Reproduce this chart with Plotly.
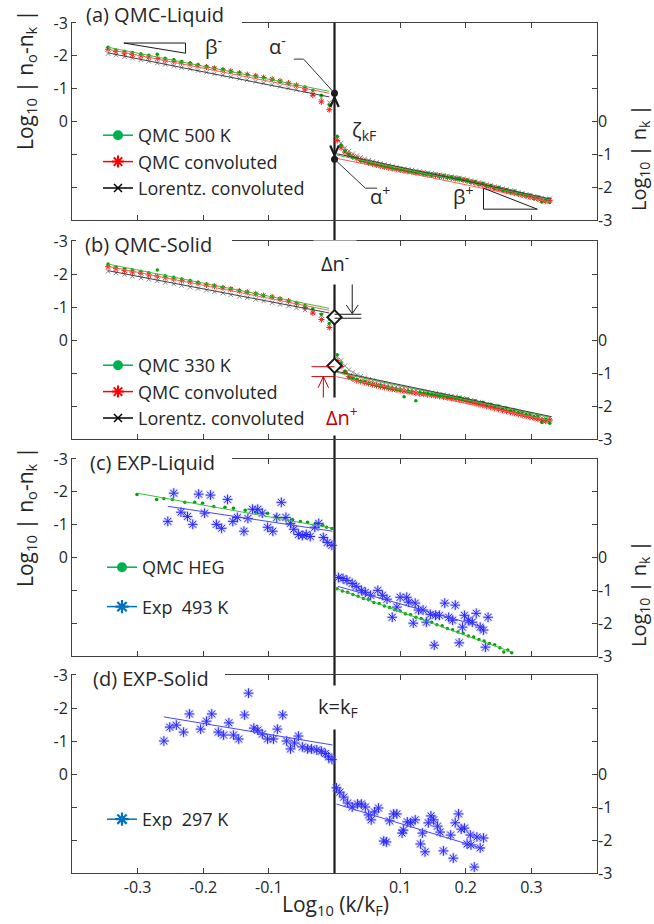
import plotly.graph_objects as go

# ---------------------------------------------------------------- data
# log10(k/kF) sampling of the QMC curves, panels (a) and (b)
x_qmc_left = [-0.345, -0.333, -0.320, -0.308, -0.295, -0.283, -0.270, -0.258, -0.245, -0.233,
              -0.220, -0.208, -0.195, -0.183, -0.170, -0.158, -0.145, -0.133, -0.120, -0.108,
              -0.095, -0.083, -0.070, -0.058, -0.045, -0.033, -0.020, -0.008]
x_qmc_right = [0.004, 0.010, 0.016, 0.022, 0.028, 0.034, 0.040, 0.046, 0.052, 0.058,
               0.064, 0.070, 0.076, 0.082, 0.088, 0.094, 0.100, 0.106, 0.112, 0.118,
               0.124, 0.130, 0.136, 0.142, 0.148, 0.154, 0.160, 0.166, 0.172, 0.178,
               0.184, 0.190, 0.196, 0.202, 0.208, 0.214, 0.220, 0.226, 0.232, 0.238,
               0.244, 0.250, 0.256, 0.262, 0.268, 0.274, 0.280, 0.286, 0.292, 0.298,
               0.304, 0.310, 0.316, 0.322, 0.328]

# (a) QMC liquid, 500 K  -- left: log10|n0-nk|, right: log10|nk|
liq_qmc_left = [-2.26, -2.18, -2.14, -2.10, -2.06, -2.02, -2.05, -1.93, -1.88, -1.83,
                -1.78, -1.73, -1.68, -1.63, -1.58, -1.53, -1.48, -1.43, -1.38, -1.33,
                -1.27, -1.22, -1.16, -1.11, -1.05, -0.95, -0.80, -0.50]
liq_conv_left = [-2.20, -2.13, -2.08, -2.04, -2.00, -1.96, -1.92, -1.87, -1.83, -1.79,
                 -1.75, -1.70, -1.66, -1.62, -1.57, -1.53, -1.48, -1.43, -1.39, -1.34,
                 -1.29, -1.23, -1.17, -1.10, -1.00, -0.80, -0.60, -0.36]
liq_lor_left = [-2.07, -2.02, -1.97, -1.93, -1.88, -1.83, -1.78, -1.74, -1.69, -1.64,
                -1.60, -1.55, -1.50, -1.45, -1.41, -1.36, -1.31, -1.27, -1.22, -1.17,
                -1.12, -1.07, -1.02, -0.97, -0.92, -0.84, -0.72, -0.58]
liq_qmc_right = [-0.45, -0.72, -0.90, -1.00, -1.10, -1.12, -1.20, -1.20, -1.27, -1.28,
                 -1.33, -1.34, -1.39, -1.38, -1.45, -1.44, -1.49, -1.47, -1.53, -1.52,
                 -1.57, -1.55, -1.60, -1.58, -1.64, -1.62, -1.67, -1.65, -1.71, -1.69,
                 -1.75, -1.73, -1.79, -1.78, -1.85, -1.83, -1.91, -1.88, -1.97, -1.95,
                 -2.04, -2.00, -2.10, -2.07, -2.16, -2.12, -2.22, -2.19, -2.28, -2.24,
                 -2.35, -2.30, -2.45, -2.38, -2.47]
liq_conv_right = [-0.58, -0.80, -0.93, -1.02, -1.08, -1.13, -1.18, -1.22, -1.26, -1.29,
                  -1.32, -1.35, -1.38, -1.41, -1.43, -1.46, -1.48, -1.50, -1.52, -1.54,
                  -1.56, -1.57, -1.59, -1.61, -1.63, -1.64, -1.66, -1.68, -1.70, -1.72,
                  -1.74, -1.76, -1.78, -1.81, -1.84, -1.87, -1.90, -1.93, -1.96, -1.99,
                  -2.03, -2.06, -2.09, -2.12, -2.15, -2.18, -2.21, -2.24, -2.27, -2.30,
                  -2.33, -2.36, -2.40, -2.43, -2.40]
liq_lor_right = [-0.52, -0.66, -0.80, -0.90, -0.98, -1.04, -1.09, -1.14, -1.18, -1.22,
                 -1.25, -1.28, -1.31, -1.34, -1.37, -1.40, -1.42, -1.44, -1.46, -1.48,
                 -1.50, -1.52, -1.54, -1.56, -1.58, -1.60, -1.62, -1.64, -1.66, -1.68,
                 -1.70, -1.72, -1.74, -1.77, -1.80, -1.83, -1.86, -1.89, -1.92, -1.95,
                 -1.98, -2.01, -2.04, -2.07, -2.10, -2.13, -2.16, -2.19, -2.22, -2.25,
                 -2.28, -2.31, -2.34, -2.37, -2.35]

# (b) QMC solid, 330 K
sol_qmc_left = [-2.30, -2.22, -2.17, -2.12, -2.08, -2.04, -2.12, -1.95, -1.90, -1.85,
                -1.80, -1.75, -1.70, -1.65, -1.60, -1.55, -1.50, -1.45, -1.40, -1.35,
                -1.30, -1.24, -1.18, -1.12, -1.05, -0.95, -0.78, -0.50]
sol_conv_left = [-2.22, -2.16, -2.10, -2.06, -2.02, -1.97, -1.93, -1.89, -1.85, -1.80,
                 -1.76, -1.72, -1.67, -1.63, -1.58, -1.54, -1.49, -1.45, -1.40, -1.35,
                 -1.30, -1.24, -1.18, -1.10, -0.98, -0.82, -0.62, -0.38]
sol_lor_left = [-2.08, -2.03, -1.98, -1.93, -1.88, -1.84, -1.79, -1.74, -1.70, -1.65,
                -1.60, -1.56, -1.51, -1.46, -1.42, -1.37, -1.32, -1.28, -1.23, -1.18,
                -1.13, -1.08, -1.03, -0.97, -0.91, -0.84, -0.75, -0.62]
sol_qmc_right = [-0.45, -0.70, -0.95, -1.15, -1.17, -1.20, -1.25, -1.26, -1.30, -1.33,
                 -1.37, -1.38, -1.42, -1.45, -1.47, -1.49, -1.52, -1.72, -1.55, -1.58,
                 -1.84, -1.60, -1.63, -1.62, -1.66, -1.65, -1.69, -1.68, -1.72, -1.71,
                 -1.76, -1.74, -1.80, -1.79, -1.85, -1.84, -1.90, -1.89, -1.96, -1.95,
                 -2.02, -2.00, -2.08, -2.06, -2.14, -2.12, -2.20, -2.18, -2.26, -2.24,
                 -2.32, -2.30, -2.50, -2.40, -2.52]
sol_conv_right = [-0.62, -0.80, -0.98, -1.10, -1.18, -1.23, -1.26, -1.29, -1.32, -1.35,
                  -1.38, -1.41, -1.44, -1.46, -1.49, -1.51, -1.53, -1.55, -1.57, -1.59,
                  -1.61, -1.63, -1.64, -1.66, -1.67, -1.69, -1.71, -1.73, -1.75, -1.77,
                  -1.79, -1.81, -1.83, -1.86, -1.89, -1.92, -1.95, -1.98, -2.01, -2.04,
                  -2.07, -2.10, -2.13, -2.16, -2.19, -2.22, -2.25, -2.28, -2.31, -2.34,
                  -2.37, -2.40, -2.43, -2.46, -2.43]
sol_lor_right = [-0.50, -0.62, -0.78, -0.90, -0.98, -1.05, -1.10, -1.15, -1.19, -1.23,
                 -1.27, -1.30, -1.33, -1.36, -1.39, -1.42, -1.44, -1.46, -1.48, -1.50,
                 -1.52, -1.54, -1.56, -1.58, -1.60, -1.62, -1.64, -1.66, -1.68, -1.70,
                 -1.72, -1.74, -1.76, -1.79, -1.82, -1.85, -1.88, -1.91, -1.94, -1.97,
                 -2.00, -2.03, -2.06, -2.09, -2.12, -2.15, -2.18, -2.21, -2.24, -2.27,
                 -2.30, -2.33, -2.36, -2.39, -2.37]

# straight fits, end points
fit_x_qmc_left = [-0.345, -0.008]
fit_x_qmc_right = [0.003, 0.330]
liq_fit_qmc_left, liq_fit_conv_left, liq_fit_lor_left = [-2.26, -0.92], [-2.20, -0.86], [-2.09, -0.75]
liq_fit_qmc_right, liq_fit_conv_right, liq_fit_lor_right = [-1.02, -2.38], [-1.12, -2.46], [-0.98, -2.36]
sol_fit_qmc_left, sol_fit_conv_left, sol_fit_lor_left = [-2.30, -0.96], [-2.23, -0.90], [-2.10, -0.82]
sol_fit_qmc_right, sol_fit_conv_right, sol_fit_lor_right = [-0.98, -2.35], [-1.11, -2.45], [-0.95, -2.32]

# jump values at k = kF
liq_alpha_minus, liq_alpha_plus = -0.86, -1.15
sol_jump_minus, sol_jump_plus = -0.69, -0.78

# (c) experiment, liquid 493 K, with the QMC electron-gas reference
heg_x_left = [-0.301, -0.271, -0.260, -0.247, -0.228, -0.213, -0.201, -0.184, -0.167, -0.154,
              -0.136, -0.120, -0.102, -0.090, -0.076, -0.064, -0.052, -0.041, -0.029, -0.018,
              -0.012, -0.004]
heg_y_left = [-1.92, -1.77, -1.80, -1.77, -1.68, -1.68, -1.65, -1.55, -1.53, -1.50,
              -1.44, -1.38, -1.35, -1.25, -1.19, -1.16, -1.10, -1.07, -1.04, -0.98,
              -0.92, -0.88]
heg_x_right = [0.004, 0.012, 0.020, 0.028, 0.036, 0.044, 0.052, 0.060, 0.068, 0.076,
               0.084, 0.092, 0.100, 0.108, 0.116, 0.124, 0.132, 0.140, 0.148, 0.156,
               0.164, 0.172, 0.180, 0.188, 0.196, 0.204, 0.212, 0.220, 0.228, 0.236,
               0.244, 0.252, 0.258, 0.264, 0.270]
heg_y_right = [-0.95, -1.02, -1.06, -1.13, -1.18, -1.25, -1.29, -1.37, -1.40, -1.48,
               -1.52, -1.59, -1.63, -1.71, -1.74, -1.82, -1.86, -1.93, -1.97, -2.05,
               -2.08, -2.16, -2.20, -2.27, -2.31, -2.39, -2.42, -2.50, -2.54, -2.62,
               -2.66, -2.75, -2.88, -2.82, -2.90]
exp493_x_left = [-0.254, -0.245, -0.234, -0.224, -0.216, -0.207, -0.198, -0.189, -0.180, -0.172,
                 -0.163, -0.155, -0.148, -0.138, -0.132, -0.125, -0.117, -0.110, -0.102, -0.094,
                 -0.088, -0.081, -0.074, -0.067, -0.062, -0.055, -0.049, -0.043, -0.037, -0.030,
                 -0.024, -0.017, -0.011, -0.004]
exp493_y_left = [-1.10, -1.96, -1.38, -1.25, -1.01, -1.93, -1.35, -1.90, -1.01, -0.89,
                 -1.77, -1.10, -1.22, -0.80, -1.19, -1.47, -1.47, -1.35, -0.92, -0.80,
                 -1.22, -1.68, -1.22, -1.04, -0.86, -0.70, -0.67, -0.70, -0.64, -0.92,
                 -1.04, -0.61, -0.46, -0.37]
exp493_x_right = [0.006, 0.013, 0.019, 0.027, 0.033, 0.041, 0.047, 0.055, 0.066, 0.073,
                  0.080, 0.088, 0.095, 0.100, 0.110, 0.113, 0.120, 0.123, 0.128, 0.135,
                  0.140, 0.146, 0.152, 0.154, 0.160, 0.168, 0.174, 0.180, 0.184, 0.190,
                  0.195, 0.198, 0.204, 0.210, 0.216, 0.222, 0.227, 0.230, 0.234]
exp493_y_right = [-0.61, -0.64, -0.70, -0.79, -0.88, -1.00, -1.06, -1.15, -1.00, -1.15,
                  -1.27, -1.82, -1.51, -1.21, -1.21, -1.36, -2.00, -1.39, -1.60, -1.60,
                  -1.97, -1.73, -2.67, -1.76, -1.76, -1.39, -1.82, -1.91, -1.45, -2.60,
                  -2.12, -1.76, -1.91, -1.97, -1.70, -2.12, -2.21, -2.73, -1.82]
heg_fit_x_left, heg_fit_left = [-0.301, -0.003], [-1.96, -0.89]
heg_fit_x_right, heg_fit_right = [0.002, 0.270], [-0.94, -2.88]
exp493_fit_x_left, exp493_fit_left = [-0.254, -0.003], [-1.56, -0.80]
exp493_fit_x_right, exp493_fit_right = [0.005, 0.227], [-0.88, -2.12]

# (d) experiment, solid 297 K
exp297_x_left = [-0.260, -0.251, -0.241, -0.230, -0.221, -0.204, -0.195, -0.187, -0.177, -0.169,
                 -0.161, -0.154, -0.146, -0.137, -0.131, -0.123, -0.117, -0.110, -0.102, -0.093,
                 -0.087, -0.079, -0.073, -0.067, -0.061, -0.055, -0.049, -0.041, -0.035, -0.027,
                 -0.020, -0.014, -0.009, -0.004]
exp297_y_left = [-1.00, -1.42, -1.48, -1.27, -1.82, -1.36, -1.60, -1.82, -1.27, -1.18,
                 -1.55, -1.18, -1.06, -1.79, -2.45, -1.39, -1.33, -1.21, -1.06, -1.06,
                 -1.36, -1.79, -1.00, -0.76, -0.94, -1.15, -0.82, -0.76, -0.76, -0.73,
                 -0.69, -0.62, -0.52, -0.44]
exp297_x_right = [0.003, 0.008, 0.014, 0.020, 0.027, 0.035, 0.041, 0.047, 0.052, 0.056,
                  0.061, 0.067, 0.075, 0.079, 0.084, 0.090, 0.095, 0.103, 0.105, 0.111,
                  0.116, 0.123, 0.131, 0.134, 0.138, 0.143, 0.147, 0.151, 0.157, 0.161,
                  0.166, 0.177, 0.181, 0.184, 0.189, 0.193, 0.198, 0.202, 0.207, 0.208,
                  0.213, 0.217, 0.222, 0.227]
exp297_y_right = [-0.42, -0.55, -0.70, -0.88, -1.00, -0.91, -0.91, -1.00, -1.24, -1.39,
                  -1.15, -1.03, -2.03, -2.06, -1.42, -1.21, -1.21, -1.79, -1.70, -1.45,
                  -1.48, -1.39, -2.12, -1.79, -2.36, -1.48, -1.27, -1.39, -1.58, -1.76,
                  -2.33, -1.85, -2.55, -1.48, -1.21, -1.67, -1.64, -2.12, -1.85, -2.15,
                  -2.82, -1.91, -2.24, -1.94]
exp297_fit_x_left, exp297_fit_left = [-0.260, -0.003], [-1.73, -0.88]
exp297_fit_x_right, exp297_fit_right = [0.003, 0.227], [-0.91, -2.27]

# axis ticks
x_tickvals = [-0.3, -0.2, -0.1, 0.1, 0.2, 0.3]
x_ticktext = ["-0.3", "-0.2", "-0.1", "0.1", "0.2", "0.3"]
y_tickvals = [-3, -2, -1, 0, 1, 2]
y_ticktext = ["-3", "-2", "-1", "0", "", ""]

panel_titles = ["(a) QMC-Liquid", "(b) QMC-Solid", "(c) EXP-Liquid", "(d) EXP-Solid"]

# ---------------------------------------------------------------- layout geometry
FONT = "Open Sans"
INK = "#262626"
FRAME = "#404040"
W, H = 654, 924
ML, MR, MT, MB = 72, 57, 23, 51
PW, PH = W - ML - MR, H - MT - MB


def xp(px):
    return (px - ML) / PW


def yp(py):
    return (H - MB - py) / PH


panel_px = [(23, 220), (241, 439), (459, 656), (675, 873)]


def ax(prefix, n):
    return prefix if n == 1 else f"{prefix}{n}"


GREEN, GREEN_FIT = "#00a000", "#3cbf3c"
RED, RED_FIT = "#ff1a1a", "#ff5c5c"
GREY, GREY_FIT = "#707070", "#404040"
BLUE, BLUE_FIT = "#2828ff", "#4646ff"
LEG_BLUE = "#0072BD"

fig = go.Figure()


def markers(x, y, xa, ya, symbol, size, color, lw=0.0):
    fig.add_trace(go.Scatter(
        x=x, y=y, xaxis=xa, yaxis=ya, mode="markers", showlegend=False, hoverinfo="skip",
        marker=dict(symbol=symbol, size=size, color=color, line=dict(color=color, width=lw))))


def fit(x, y, xa, ya, color, width=1.0):
    fig.add_trace(go.Scatter(
        x=x, y=y, xaxis=xa, yaxis=ya, mode="lines", showlegend=False, hoverinfo="skip",
        line=dict(color=color, width=width)))


def legend_entry(name, legend, group, xa, ya, lcolor, symbol, size, mcolor, lw):
    fig.add_trace(go.Scatter(
        x=[None], y=[None], xaxis=xa, yaxis=ya, mode="lines+markers", name=name,
        legend=legend, legendgroup=group, hoverinfo="skip",
        line=dict(color=lcolor, width=1.5),
        marker=dict(symbol=symbol, size=size, color=mcolor, line=dict(color=mcolor, width=lw))))


def blue_stars(x, y, xa, ya):
    # soft halo under the asterisks
    markers(x, y, xa, ya, "asterisk-open", 9, "rgba(130,130,255,0.30)", 2.6)
    markers(x, y, xa, ya, "asterisk-open", 8, BLUE, 1.0)


# ---- panels (a) and (b): QMC
qmc_sets = [
    (liq_qmc_left, liq_conv_left, liq_lor_left, liq_qmc_right, liq_conv_right, liq_lor_right,
     (liq_fit_qmc_left, liq_fit_conv_left, liq_fit_lor_left),
     (liq_fit_qmc_right, liq_fit_conv_right, liq_fit_lor_right), "QMC 500 K"),
    (sol_qmc_left, sol_conv_left, sol_lor_left, sol_qmc_right, sol_conv_right, sol_lor_right,
     (sol_fit_qmc_left, sol_fit_conv_left, sol_fit_lor_left),
     (sol_fit_qmc_right, sol_fit_conv_right, sol_fit_lor_right), "QMC 330 K"),
]
for i, (gl, rl, kl, gr, rr, kr, fl, fr, label) in enumerate(qmc_sets):
    xa, yl, yr = ax("x", i + 1), ax("y", 2 * i + 1), ax("y", 2 * i + 2)
    markers(x_qmc_left, kl, xa, yl, "x-thin-open", 4.5, "#8a8a8a", 1.0)
    markers(x_qmc_right, kr, xa, yr, "x-thin-open", 4.5, "#8a8a8a", 1.0)
    markers(x_qmc_left, rl, xa, yl, "asterisk-open", 5, RED, 1.0)
    markers(x_qmc_right, rr, xa, yr, "asterisk-open", 5, RED, 1.0)
    markers(x_qmc_left, gl, xa, yl, "circle", 3.5, GREEN)
    markers(x_qmc_right, gr, xa, yr, "circle", 3.5, GREEN)
    for yy, col in zip(fl, (GREEN_FIT, RED_FIT, GREY_FIT)):
        fit(fit_x_qmc_left, yy, xa, yl, col)
    for yy, col in zip(fr, (GREEN_FIT, RED_FIT, GREY_FIT)):
        fit(fit_x_qmc_right, yy, xa, yr, col)
    leg = ax("legend", i + 1)
    legend_entry(label, leg, None, xa, yl, "#00b050", "circle", 10, "#00b050", 0)
    legend_entry("QMC convoluted", leg, None, xa, yl, "#ff0000", "asterisk-open", 10, "#ff0000", 2)
    legend_entry("Lorentz. convoluted", leg, None, xa, yl, "#000000", "x-thin-open", 8, "#000000", 1.5)

# jump points at kF
fig.add_trace(go.Scatter(x=[0], y=[liq_alpha_minus], xaxis="x", yaxis="y", mode="markers",
                         showlegend=False, hoverinfo="skip",
                         marker=dict(symbol="circle", size=7, color="#1a1a1a")))
fig.add_trace(go.Scatter(x=[0], y=[liq_alpha_plus], xaxis="x", yaxis="y2", mode="markers",
                         showlegend=False, hoverinfo="skip",
                         marker=dict(symbol="circle", size=7, color="#1a1a1a")))
fig.add_trace(go.Scatter(x=[0], y=[sol_jump_minus], xaxis="x2", yaxis="y3", mode="markers",
                         showlegend=False, hoverinfo="skip",
                         marker=dict(symbol="diamond", size=11, color="white",
                                     line=dict(color="#1a1a1a", width=2))))
fig.add_trace(go.Scatter(x=[0], y=[sol_jump_plus], xaxis="x2", yaxis="y4", mode="markers",
                         showlegend=False, hoverinfo="skip",
                         marker=dict(symbol="diamond", size=11, color="white",
                                     line=dict(color="#1a1a1a", width=2))))

# ---- panel (c)
markers(heg_x_left, heg_y_left, "x3", "y5", "circle", 3.5, GREEN)
markers(heg_x_right, heg_y_right, "x3", "y6", "circle", 3.5, GREEN)
blue_stars(exp493_x_left, exp493_y_left, "x3", "y5")
blue_stars(exp493_x_right, exp493_y_right, "x3", "y6")
fit(heg_fit_x_left, heg_fit_left, "x3", "y5", GREEN_FIT)
fit(heg_fit_x_right, heg_fit_right, "x3", "y6", GREEN_FIT)
fit(exp493_fit_x_left, exp493_fit_left, "x3", "y5", BLUE_FIT)
fit(exp493_fit_x_right, exp493_fit_right, "x3", "y6", BLUE_FIT)
legend_entry("QMC HEG", "legend3", "heg", "x3", "y5", "#00b050", "circle", 10, "#00b050", 0)
legend_entry("Exp\u00a0 493 K", "legend3", "exp493", "x3", "y5", LEG_BLUE, "asterisk-open", 11, LEG_BLUE, 2.2)

# ---- panel (d)
blue_stars(exp297_x_left, exp297_y_left, "x4", "y7")
blue_stars(exp297_x_right, exp297_y_right, "x4", "y8")
fit(exp297_fit_x_left, exp297_fit_left, "x4", "y7", BLUE_FIT)
fit(exp297_fit_x_right, exp297_fit_right, "x4", "y8", BLUE_FIT)
legend_entry("Exp\u00a0 297 K", "legend4", None, "x4", "y7", LEG_BLUE, "asterisk-open", 11, LEG_BLUE, 2.2)

# ---------------------------------------------------------------- axes
tickfont = dict(family=FONT, size=16, color=INK)
layout = dict(
    width=W, height=H, margin=dict(l=ML, r=MR, t=MT, b=MB),
    paper_bgcolor="white", plot_bgcolor="white",
    font=dict(family=FONT, color=INK), showlegend=True,
)
for i, (top, bot) in enumerate(panel_px):
    dom = [max(0.0, yp(bot)), min(1.0, yp(top))]
    xa = dict(domain=[0, 1], range=[-0.4, 0.4], anchor=ax("y", 2 * i + 1),
              showline=True, linecolor=FRAME, linewidth=1, mirror="ticks",
              ticks="inside", ticklen=5, tickcolor=FRAME, tickvals=x_tickvals, ticktext=x_ticktext,
              showticklabels=(i == 3), tickfont=tickfont, showgrid=False, zeroline=False)
    if i < 3:
        xa["matches"] = "x4"
    layout[ax("xaxis", i + 1)] = xa
    layout[ax("yaxis", 2 * i + 1)] = dict(
        domain=dom, range=[3, -3], anchor=ax("x", i + 1), showline=True, linecolor=FRAME,
        linewidth=1, mirror="ticks", ticks="inside", ticklen=5, tickcolor=FRAME,
        tickvals=y_tickvals, ticktext=y_ticktext, tickfont=tickfont,
        showgrid=False, zeroline=False)
    layout[ax("yaxis", 2 * i + 2)] = dict(
        overlaying=ax("y", 2 * i + 1), side="right", range=[-3, 3], anchor=ax("x", i + 1),
        showline=False, ticks="", tickvals=[-3, -2, -1, 0], ticktext=["-3", "-2", "-1", "0"],
        tickfont=tickfont, showgrid=False, zeroline=False)

legend_common = dict(xanchor="left", yanchor="top", bgcolor="rgba(0,0,0,0)",
                     font=dict(family=FONT, size=18, color=INK), itemclick=False,
                     itemdoubleclick=False)
layout["legend"] = dict(legend_common, x=xp(98), y=yp(117))
layout["legend2"] = dict(legend_common, x=xp(98), y=yp(347))
layout["legend3"] = dict(legend_common, x=xp(102), y=yp(549), tracegroupgap=13)
layout["legend4"] = dict(legend_common, x=xp(102), y=yp(801))
fig.update_layout(**layout)

# ---------------------------------------------------------------- decorations
shapes = []
LINE = "#1a1a1a"
# k = kF line through all panels
shapes.append(dict(type="line", xref="x4", yref="paper", x0=0, x1=0, y0=0, y1=1,
                   line=dict(color=LINE, width=2.2), layer="below"))

# gaps in the top frame behind the panel titles
for (top, _), right_px in zip(panel_px, (242, 232, 232, 225)):
    shapes.append(dict(type="rect", xref="paper", yref="paper", x0=xp(76), x1=xp(right_px),
                       y0=yp(top + 6), y1=yp(top - 4), fillcolor="white",
                       line=dict(width=0), layer="above"))


def path(pts):
    return "M " + " L ".join(f"{a},{b}" for a, b in pts)


def shp(pts, xref, yref, color=LINE, width=1.0, closed=False):
    p = path(pts) + (" Z" if closed else "")
    shapes.append(dict(type="path", path=p, xref=xref, yref=yref,
                       line=dict(color=color, width=width), layer="above"))


# panel (a): slope triangles, leaders, zeta arrows
shp([(-0.321, -2.39), (-0.227, -2.39), (-0.227, -2.08)], "x", "y", closed=True)
shp([(0.227, -2.03), (0.227, -2.67), (0.309, -2.67)], "x", "y2", closed=True)
shp([(-0.062, -1.90), (-0.047, -1.90), (0, liq_alpha_minus)], "x", "y", color="#333333")
shp([(0, liq_alpha_plus), (0.047, -2.03), (0.065, -2.03)], "x", "y2", color="#333333")
shp([(-0.0065, -0.44), (0, -0.73), (0.0065, -0.44)], "x", "y", width=2.2)
shp([(-0.0065, -0.73), (0, -1.03), (0.0065, -0.73)], "x", "y2", width=2.2)

# panel (b): jump markers
shp([(0, -0.78), (0.041, -0.78)], "x2", "y3")
shp([(0, -0.66), (0.041, -0.66)], "x2", "y3")
shp([(0.027, -1.77), (0.027, -0.80)], "x2", "y3")
shp([(0.018, -1.06), (0.027, -0.80), (0.036, -1.06)], "x2", "y3")
DRED = "#c00000"
shp([(-0.035, -0.81), (0, -0.81)], "x2", "y4", color=DRED)
shp([(-0.035, -1.11), (0, -1.11)], "x2", "y4", color=DRED)
shp([(-0.017, -1.83), (-0.017, -1.11)], "x2", "y4", color=DRED)
shp([(-0.025, -1.45), (-0.017, -1.11), (-0.009, -1.45)], "x2", "y4", color=DRED)
fig.update_layout(shapes=shapes)

# ---------------------------------------------------------------- text
ann = []
lab = dict(family=FONT, size=20, color=INK)
for title, (top, _), left_px in zip(panel_titles, panel_px, (84, 83, 88, 91)):
    ty = 14 if top == 23 else top + 3
    ann.append(dict(text=title, xref="paper", yref="paper", x=xp(left_px), y=yp(ty),
                    xanchor="left", yanchor="middle", showarrow=False,
                    font=dict(family=FONT, size=20, color=INK)))

# axis titles
left_title = "Log<sub>10</sub> | n<sub>o</sub>-n<sub>k</sub> |"
right_title = "Log<sub>10</sub> | n<sub>k</sub> |"
for cy in (80, 517):
    ann.append(dict(text=left_title, xref="paper", yref="paper", x=xp(26), y=yp(cy),
                    xanchor="center", yanchor="middle", textangle=-90, showarrow=False,
                    font=dict(family=FONT, size=21, color=INK)))
for cy in (158, 594):
    ann.append(dict(text=right_title, xref="paper", yref="paper", x=xp(639), y=yp(cy),
                    xanchor="center", yanchor="middle", textangle=-90, showarrow=False,
                    font=dict(family=FONT, size=20, color=INK)))
ann.append(dict(text="Log<sub>10</sub> (k/k<sub>F</sub>)", xref="paper", yref="paper",
                x=xp(335), y=yp(905), xanchor="center", yanchor="middle", showarrow=False,
                font=dict(family=FONT, size=21, color=INK)))

# panel (a) labels
ann += [
    dict(text="β<sup>-</sup>", x=-0.184, y=-2.32, xref="x", yref="y", showarrow=False, font=lab),
    dict(text="α<sup>-</sup>", x=-0.087, y=-2.32, xref="x", yref="y", showarrow=False, font=lab),
    dict(text="ζ<sub>kF</sub>", x=0.045, y=-0.27, xref="x", yref="y2", showarrow=False, font=lab),
    dict(text="α<sup>+</sup>", x=0.07, y=-2.24, xref="x", yref="y2", showarrow=False, font=lab),
    dict(text="β<sup>+</sup>", x=0.196, y=-2.24, xref="x", yref="y2", showarrow=False, font=lab),
]
# panel (b) labels, boxed over the kF line
ann.append(dict(text="Δn<sup>-</sup>", x=0, y=-2.34, xref="x2", yref="y3", showarrow=False,
                font=lab, bgcolor="white", borderpad=7))
ann.append(dict(text="Δn<sup>+</sup>", x=0.011, y=-2.31, xref="x2", yref="y4", showarrow=False,
                font=dict(family=FONT, size=20, color=DRED), bgcolor="white", borderpad=4))
# panel (d)
ann.append(dict(text="k=k<sub>F</sub>", x=0.006, y=-2.03, xref="x4", yref="y7", showarrow=False,
                font=lab, bgcolor="white", borderpad=7))
fig.update_layout(annotations=ann)

fig.write_html("out.html")
